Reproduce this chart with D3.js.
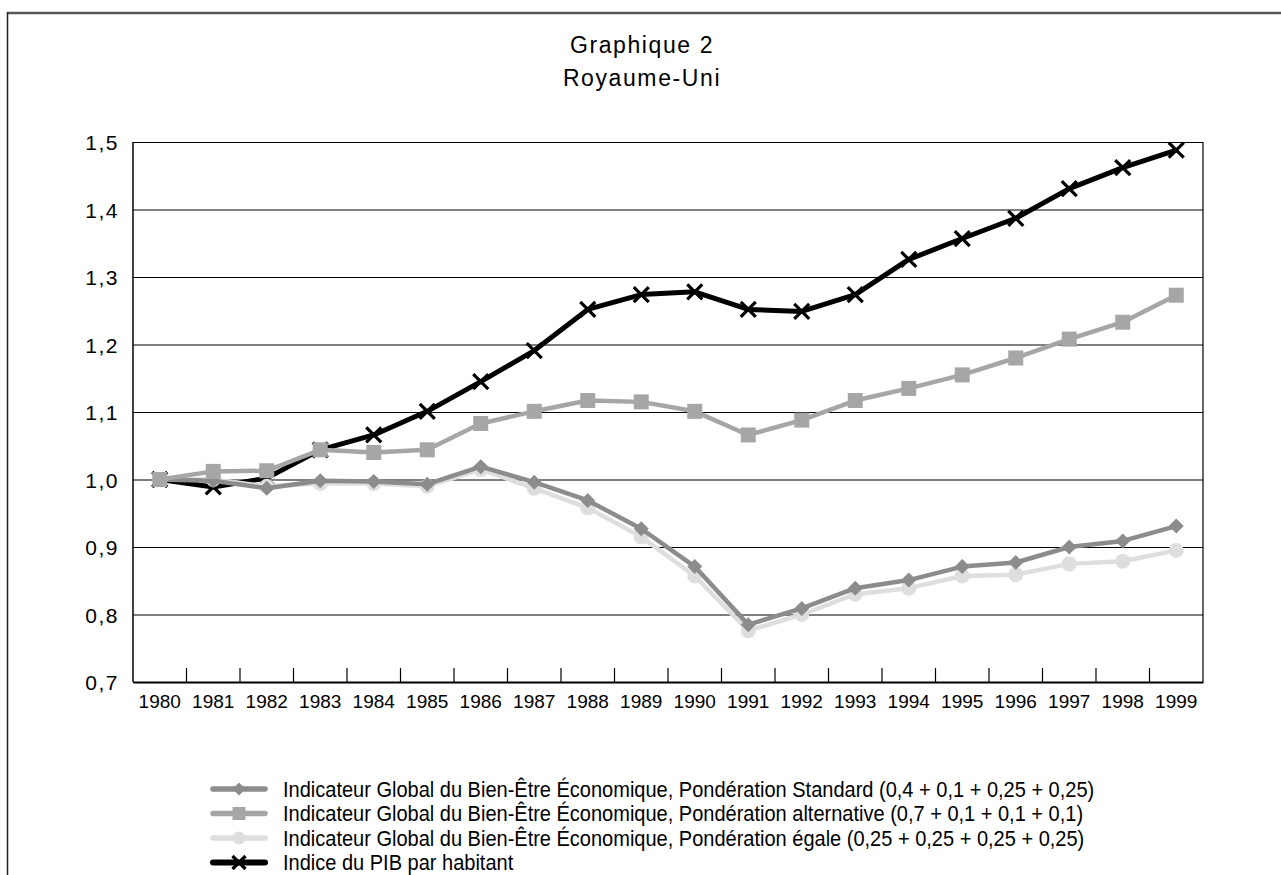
<!DOCTYPE html>
<html>
<head>
<meta charset="utf-8">
<script src="https://d3js.org/d3.v7.min.js"></script>
<style>
  body { margin: 0; background: #fff; }
  text { font-family: "Liberation Sans", Arial, sans-serif; fill: #000; }
</style>
</head>
<body>
<svg width="1281" height="875"></svg>
<script>
// donnees
var years = [1980,1981,1982,1983,1984,1985,1986,1987,1988,1989,1990,1991,1992,1993,1994,1995,1996,1997,1998,1999];
var pibHabitant = [1.000,0.989,1.002,1.044,1.066,1.101,1.145,1.191,1.252,1.274,1.278,1.252,1.249,1.274,1.326,1.357,1.387,1.431,1.462,1.488];
var ponderationAlternative = [1.000,1.012,1.013,1.044,1.040,1.044,1.083,1.101,1.117,1.115,1.101,1.066,1.088,1.117,1.135,1.155,1.180,1.208,1.233,1.273];
var ponderationStandard = [1.000,0.998,0.987,0.998,0.997,0.993,1.019,0.996,0.969,0.927,0.871,0.785,0.809,0.839,0.851,0.871,0.877,0.900,0.909,0.931];
var ponderationEgale = [1.000,1.000,0.990,0.994,0.994,0.990,1.015,0.987,0.958,0.915,0.857,0.776,0.800,0.830,0.839,0.857,0.859,0.875,0.879,0.895];
var yTicks = [0.7,0.8,0.9,1.0,1.1,1.2,1.3,1.4,1.5];
var titres = ["Graphique 2","Royaume-Uni"];
var legendLabels = [
  "Indicateur Global du Bien-Être Économique, Pondération Standard (0,4 + 0,1 + 0,25 + 0,25)",
  "Indicateur Global du Bien-Être Économique, Pondération alternative (0,7 + 0,1 + 0,1 + 0,1)",
  "Indicateur Global du Bien-Être Économique, Pondération égale (0,25 + 0,25 + 0,25 + 0,25)",
  "Indice du PIB par habitant"
];

var svg = d3.select("svg");
var mLeft = 133, mRight = 1203, mTop = 142, mBottom = 682;

// cadre exterieur
svg.append("line").attr("x1",7).attr("x2",1281).attr("y1",13).attr("y2",13)
  .attr("stroke","#555").attr("stroke-width",2.5);
svg.append("line").attr("x1",7.5).attr("x2",7.5).attr("y1",12).attr("y2",875)
  .attr("stroke","#222").attr("stroke-width",1.5);

// titres
svg.selectAll(".titre").data(titres).enter().append("text")
  .attr("class","titre")
  .attr("x",642).attr("y",function(d,i){ return 53 + i*33; })
  .attr("text-anchor","middle")
  .style("font-size","23px").style("letter-spacing","1.6px")
  .text(function(d){ return d; });

var x = d3.scaleBand().domain(years).range([mLeft,mRight]).padding(0);
var y = d3.scaleLinear().domain([0.7,1.5]).range([mBottom,mTop]);
var cx = function(d,i){ return x(years[i]) + x.bandwidth()/2; };

// grille
svg.append("g")
  .attr("transform","translate("+mLeft+",0)")
  .call(d3.axisLeft(y).tickValues(yTicks).tickSize(-(mRight-mLeft)).tickFormat(""))
  .call(function(g){ g.select(".domain").remove(); })
  .selectAll("line").attr("stroke","#000").attr("stroke-width",1);

// bords du graphe
svg.append("line").attr("x1",mRight).attr("x2",mRight).attr("y1",mTop).attr("y2",mBottom)
  .attr("stroke","#000").attr("stroke-width",1.2);
svg.append("line").attr("x1",mLeft).attr("x2",mLeft).attr("y1",mTop).attr("y2",mBottom)
  .attr("stroke","#000").attr("stroke-width",1.5);

// axe Y : etiquettes
var yAxis = svg.append("g")
  .attr("transform","translate("+(mLeft-14)+",0)")
  .call(d3.axisLeft(y).tickValues(yTicks).tickSize(0)
    .tickFormat(function(d){ return d3.format(".1f")(d).replace(".",","); }));
yAxis.select(".domain").remove();
yAxis.selectAll("text").style("font-size","21px").style("font-family","Liberation Sans, Arial, sans-serif")
  .style("letter-spacing","1.5px").attr("dy","0.36em").attr("x",0);

// axe X
var xAxis = svg.append("g")
  .attr("transform","translate(0,"+mBottom+")")
  .call(d3.axisBottom(x).tickSize(0).tickPadding(13));
xAxis.select(".domain").attr("stroke","#000").attr("stroke-width",2);
xAxis.selectAll("text").style("font-size","19px").style("font-family","Liberation Sans, Arial, sans-serif");

svg.append("g").selectAll("line").data(years.slice(1)).enter().append("line")
  .attr("x1",function(d){ return x(d); }).attr("x2",function(d){ return x(d); })
  .attr("y1",mBottom).attr("y2",mBottom-14)
  .attr("stroke","#000").attr("stroke-width",1.2);

// series
var series = [
  {values: pibHabitant, color: "#000", width: 5, marker: "x", size: 15},
  {values: ponderationEgale, color: "#dedede", width: 4.5, marker: "circle", size: 15},
  {values: ponderationStandard, color: "#8c8c8c", width: 4.5, marker: "diamond", size: 15},
  {values: ponderationAlternative, color: "#a6a6a6", width: 4.5, marker: "square", size: 15}
];

function drawMarker(g, s, px, py) {
  var h = s.size/2;
  if (s.marker === "square") {
    g.append("rect").attr("x",px-h).attr("y",py-h).attr("width",s.size).attr("height",s.size).attr("fill",s.color);
  } else if (s.marker === "circle") {
    g.append("circle").attr("cx",px).attr("cy",py).attr("r",h).attr("fill",s.color);
  } else if (s.marker === "diamond") {
    g.append("path").attr("d","M"+px+","+(py-h)+"L"+(px+h)+","+py+"L"+px+","+(py+h)+"L"+(px-h)+","+py+"Z").attr("fill",s.color);
  } else {
    g.append("path").attr("d","M"+(px-h)+","+(py-h)+"L"+(px+h)+","+(py+h)+"M"+(px+h)+","+(py-h)+"L"+(px-h)+","+(py+h))
      .attr("stroke",s.color).attr("stroke-width",3.2).attr("fill","none");
  }
}

var line = d3.line().x(cx).y(function(d){ return y(d); });
series.forEach(function(s){
  var g = svg.append("g");
  g.append("path").datum(s.values).attr("d",line)
    .attr("fill","none").attr("stroke",s.color).attr("stroke-width",s.width).attr("stroke-linejoin","round");
  s.values.forEach(function(v,i){ drawMarker(g, s, cx(v,i), y(v)); });
});

// legende (texte resserre comme une police etroite)
var legendOrder = [series[2], series[3], series[1], series[0]];
var lg = svg.append("g");
legendOrder.forEach(function(s,i){
  var ly = 789 + i*24.5;
  lg.append("line").attr("x1",213).attr("x2",265).attr("y1",ly).attr("y2",ly)
    .attr("stroke",s.color).attr("stroke-width",s.width+1).attr("stroke-linecap","round");
  drawMarker(lg, {color: s.color, marker: s.marker, size: 13}, 239, ly);
  lg.append("text").attr("transform","translate(283,"+ly+") scale(0.91,1)").attr("dy","0.36em")
    .style("font-size","22px").text(legendLabels[i]);
});
</script>
</body>
</html>
